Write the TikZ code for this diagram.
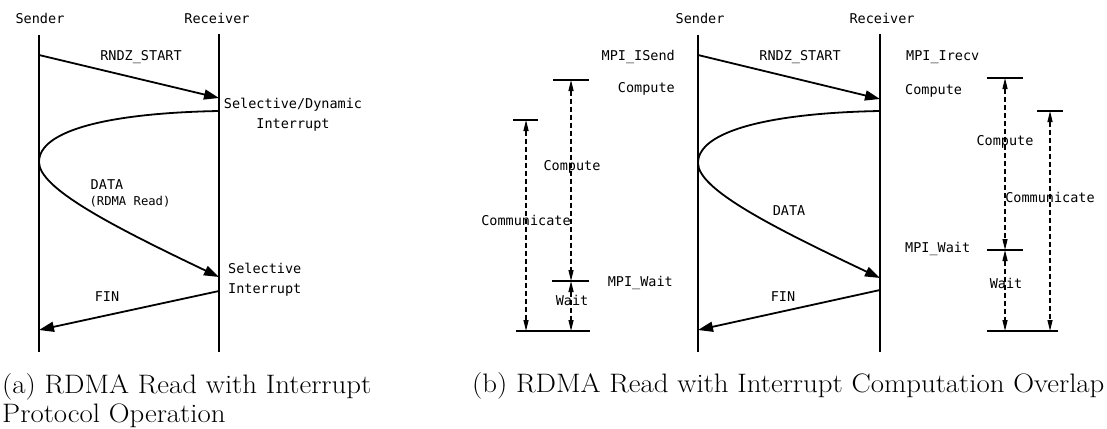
\documentclass[tikz,border=0pt]{standalone}
\usepackage{fontspec}
\setmonofont{DejaVu Sans Mono}
\usetikzlibrary{arrows.meta}
\newcommand\lblfont{\ttfamily\fontsize{13.5}{20}\selectfont}
\newcommand\smlfont{\ttfamily\fontsize{12.2}{16}\selectfont}
\newcommand\capfont{\fontsize{26.7}{29}\selectfont}
\newcommand\captext[1]{\scalebox{1.08}[1]{#1}}
\tikzset{
  lifeline/.style={line width=1.8pt},
  msg/.style={line width=1.8pt, -{Triangle[length=15pt,width=10pt]}},
  bar/.style={line width=2.4pt},
  span/.style={line width=1.2pt, dash pattern=on 5pt off 3pt,
    {Triangle[length=11pt,width=5pt]}-{Triangle[length=11pt,width=5pt]}},
  lbl/.style={font=\lblfont, inner sep=0pt},
  caption/.style={font=\capfont, inner sep=0pt, anchor=base west},
}
\begin{document}
\begin{tikzpicture}[x=1pt, y=-1pt]
\useasboundingbox (0,0) rectangle (1107,428);

% ---------- (a) protocol operation ----------
\node[lbl] (aS) at (40,18) {Sender};
\node[lbl] (aR) at (217,18) {Receiver};
\coordinate (aStop) at (39,35);   \coordinate (aSbot) at (39,352);
\coordinate (aRtop) at (219,34);  \coordinate (aRbot) at (219,352);
\draw[lifeline] (aStop) -- (aSbot);
\draw[lifeline] (aRtop) -- (aRbot);

\coordinate (aS1) at (39,55);   \coordinate (aR1) at (219,98);
\coordinate (aR2) at (219,111); \coordinate (aS2) at (39,162);
\coordinate (aR3) at (219,277);
\coordinate (aR4) at (219,291); \coordinate (aS4) at (39,330);

\draw[msg] (aS1) -- (aR1);
\draw[msg] (aR2) .. controls (110,113) and (39,130) .. (aS2)
               .. controls (39,188) and (110,225) .. (aR3);
\draw[msg] (aR4) -- (aS4);

\node[lbl] (aRndz) at (141,57) {RNDZ\_START};
\node[lbl, align=center] (aSel) at (293,115) {Selective/Dynamic\\Interrupt};
\node[lbl] (aData) at (107,185) {DATA};
\node[inner sep=0pt, font=\smlfont] (aRead) at (130,202) {(RDMA Read)};
\node[lbl, align=left, anchor=west] (aSel2) at (228,280) {Selective\\Interrupt};
\node[lbl] (aFin) at (107,297) {FIN};

% ---------- (b) computation overlap ----------
\node[lbl] (bS) at (700,18) {Sender};
\node[lbl] (bR) at (882,18) {Receiver};
\coordinate (bStop) at (698,35);  \coordinate (bSbot) at (698,352);
\coordinate (bRtop) at (880,34);  \coordinate (bRbot) at (880,352);
\draw[lifeline] (bStop) -- (bSbot);
\draw[lifeline] (bRtop) -- (bRbot);

\coordinate (bS1) at (698,55);  \coordinate (bR1) at (880,99);
\coordinate (bR2) at (880,111); \coordinate (bS2) at (698,163);
\coordinate (bR3) at (880,278);
\coordinate (bR4) at (880,290); \coordinate (bS4) at (698,330);

\draw[msg] (bS1) -- (bR1);
\draw[msg] (bR2) .. controls (770,113) and (698,131) .. (bS2)
               .. controls (698,189) and (770,226) .. (bR3);
\draw[msg] (bR4) -- (bS4);

\node[lbl] (bRndz) at (800,57) {RNDZ\_START};
\node[lbl] (bData) at (789,211) {DATA};
\node[lbl] (bFin) at (783,297) {FIN};

% sender side annotations
\node[lbl, anchor=east] (bIsend) at (675,57) {MPI\_ISend};
\node[lbl, anchor=east] (bScomp) at (675,89) {Compute};
\node[lbl, anchor=east] (bSwait) at (673,283) {MPI\_Wait};

\coordinate (sCa) at (553,80);  \coordinate (sCb) at (589,80);
\coordinate (sWa) at (552,281); \coordinate (sWb) at (589,281);
\coordinate (sEa) at (516,331); \coordinate (sEb) at (590,331);
\coordinate (sMa) at (513,120); \coordinate (sMb) at (538,120);
\draw[bar] (sCa) -- (sCb);
\draw[bar] (sWa) -- (sWb);
\draw[bar] (sEa) -- (sEb);
\draw[bar] (sMa) -- (sMb);
\coordinate (sC1) at (571,80);  \coordinate (sC2) at (571,281);
\coordinate (sC3) at (571,331);
\coordinate (sM1) at (526,120); \coordinate (sM2) at (526,331);
\draw[span] (sC1) -- (sC2);
\draw[span] (sC2) -- (sC3);
\draw[span] (sM1) -- (sM2);
\node[lbl] (sCompL) at (572,167) {Compute};
\node[lbl] (sWaitL) at (572,300) {Wait};
\node[lbl] (sCommL) at (526,220) {Communicate};

% receiver side annotations
\node[lbl, anchor=west] (bIrecv) at (906,57) {MPI\_Irecv};
\node[lbl, anchor=west] (bRcomp) at (905,91) {Compute};
\node[lbl, anchor=west] (bRwait) at (905,249) {MPI\_Wait};

\coordinate (rCa) at (987,78);   \coordinate (rCb) at (1023,78);
\coordinate (rWa) at (987,250);  \coordinate (rWb) at (1023,250);
\coordinate (rEa) at (987,331);  \coordinate (rEb) at (1058,331);
\coordinate (rMa) at (1037,111); \coordinate (rMb) at (1063,111);
\draw[bar] (rCa) -- (rCb);
\draw[bar] (rWa) -- (rWb);
\draw[bar] (rEa) -- (rEb);
\draw[bar] (rMa) -- (rMb);
\coordinate (rC1) at (1005,78);  \coordinate (rC2) at (1005,250);
\coordinate (rC3) at (1005,331);
\coordinate (rM1) at (1050,111); \coordinate (rM2) at (1050,331);
\draw[span] (rC1) -- (rC2);
\draw[span] (rC2) -- (rC3);
\draw[span] (rM1) -- (rM2);
\node[lbl] (rCompL) at (1005,142) {Compute};
\node[lbl] (rWaitL) at (1006,283) {Wait};
\node[lbl] (rCommL) at (1050,197) {Communicate};

% ---------- captions ----------
\node[caption] (capA1) at (2,393) {\captext{(a) RDMA Read with Interrupt}};
\node[caption] (capA2) at (2,422) {\captext{Protocol Operation}};
\node[caption] (capB) at (472,392) {\captext{(b) RDMA Read with Interrupt Computation Overlap}};
\end{tikzpicture}
\end{document}
